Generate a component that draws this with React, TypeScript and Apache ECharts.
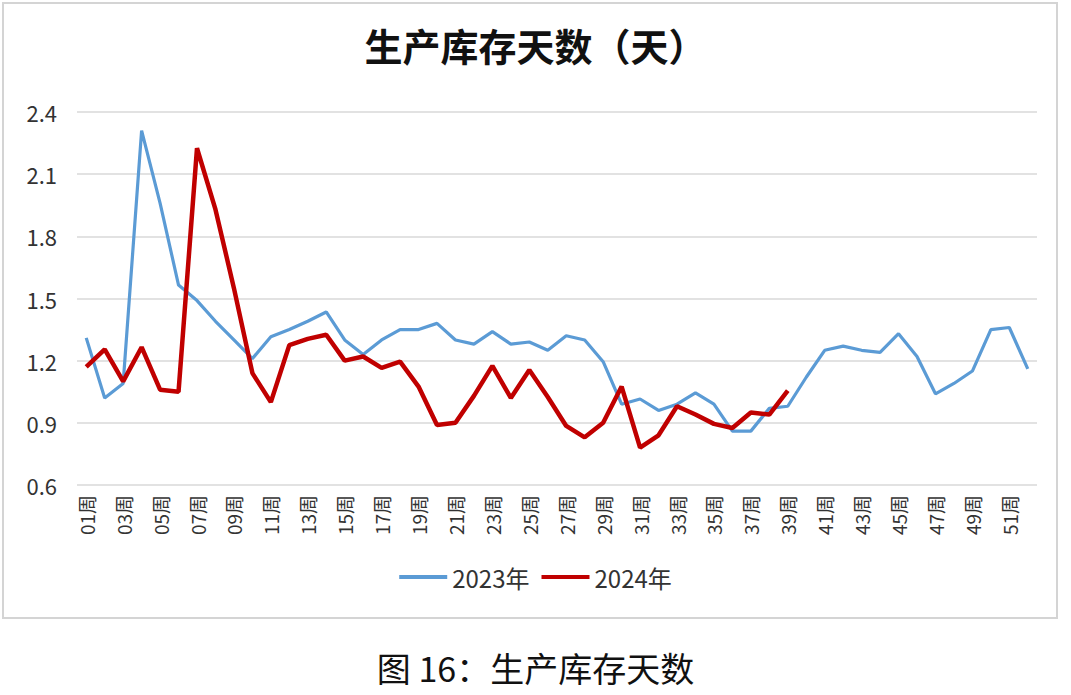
import React, { useEffect, useRef } from "react";
import * as echarts from "echarts";

const weeks: string[] = Array.from({ length: 52 }, (_, i) => String(i + 1).padStart(2, "0") + "周");

const series2023: number[] = [
  1.31, 1.02, 1.09, 2.31, 1.96, 1.565, 1.49, 1.39, 1.3, 1.21,
  1.315, 1.35, 1.39, 1.435, 1.3, 1.23, 1.3, 1.35, 1.35, 1.38,
  1.3, 1.28, 1.34, 1.28, 1.29, 1.25, 1.32, 1.3, 1.195, 0.99,
  1.015, 0.96, 0.99, 1.045, 0.99, 0.86, 0.86, 0.97, 0.98, 1.12,
  1.25, 1.27, 1.25, 1.24, 1.33, 1.22, 1.04, 1.09, 1.15, 1.35,
  1.36, 1.16,
];

const series2024: number[] = [
  1.17, 1.255, 1.1, 1.265, 1.06, 1.05, 2.225, 1.93, 1.55, 1.14,
  1.0, 1.275, 1.305, 1.325, 1.2, 1.22, 1.165, 1.195, 1.075, 0.89,
  0.9, 1.03, 1.175, 1.02, 1.155, 1.025, 0.885, 0.83, 0.9, 1.075,
  0.78, 0.84, 0.98, 0.94, 0.895, 0.875, 0.95, 0.94, 1.055,
];

const seriesNames: string[] = ["2023年", "2024年"];
const titleText = "生产库存天数（天）";
const captionText = "图 16：生产库存天数";

export default function App() {
  const ref = useRef<HTMLDivElement>(null);

  useEffect(() => {
    document.body.style.margin = "0";
    if (!ref.current) return;
    const chart = echarts.init(ref.current, null, { renderer: "svg" });
    const font = "'Noto Sans CJK SC', 'Noto Sans', sans-serif";
    chart.setOption({
      animation: false,
      backgroundColor: "#ffffff",
      title: {
        text: titleText,
        left: "center",
        top: 20,
        textStyle: { fontFamily: font, fontSize: 38, fontWeight: "bold", color: "#111" },
      },
      legend: {
        bottom: 695 - 594,
        left: "center",
        icon: "rect",
        itemWidth: 48,
        itemHeight: 4,
        itemGap: 12,
        textStyle: { fontFamily: font, fontSize: 24, color: "#333" },
        data: seriesNames,
      },
      grid: { left: 77, right: 34, top: 112, bottom: 210, containLabel: false },
      xAxis: {
        type: "category",
        data: weeks,
        boundaryGap: true,
        axisLine: { show: false },
        axisTick: { show: false },
        axisLabel: {
          interval: 1,
          rotate: 90,
          fontFamily: font,
          fontSize: 19,
          color: "#333",
          margin: 10,
        },
      },
      yAxis: {
        type: "value",
        min: 0.6,
        max: 2.4,
        interval: 0.3,
        axisLine: { show: false },
        axisTick: { show: false },
        splitLine: { lineStyle: { color: "#d9d9d9", width: 1.5 } },
        axisLabel: {
          fontFamily: font,
          fontSize: 22,
          color: "#333",
          margin: 20,
          formatter: (v: number) => v.toFixed(1),
        },
      },
      graphic: [
        {
          type: "rect",
          shape: { x: 3, y: 3, width: 1054, height: 615 },
          style: { fill: "none", stroke: "#d4d4d4", lineWidth: 2 },
          silent: true,
        },
        {
          type: "text",
          left: "center",
          top: 650,
          style: { text: captionText, fontFamily: font, fontSize: 34, fill: "#111" },
        },
      ],
      series: [
        {
          name: seriesNames[0],
          type: "line",
          data: series2023,
          showSymbol: false,
          symbol: "none",
          lineStyle: { color: "#5b9bd5", width: 3.2 },
          itemStyle: { color: "#5b9bd5" },
        },
        {
          name: seriesNames[1],
          type: "line",
          data: series2024,
          showSymbol: false,
          symbol: "none",
          lineStyle: { color: "#c00000", width: 4.5 },
          itemStyle: { color: "#c00000" },
        },
      ],
    });
    return () => chart.dispose();
  }, []);

  return <div ref={ref} style={{ width: 1071, height: 695 }} />;
}
